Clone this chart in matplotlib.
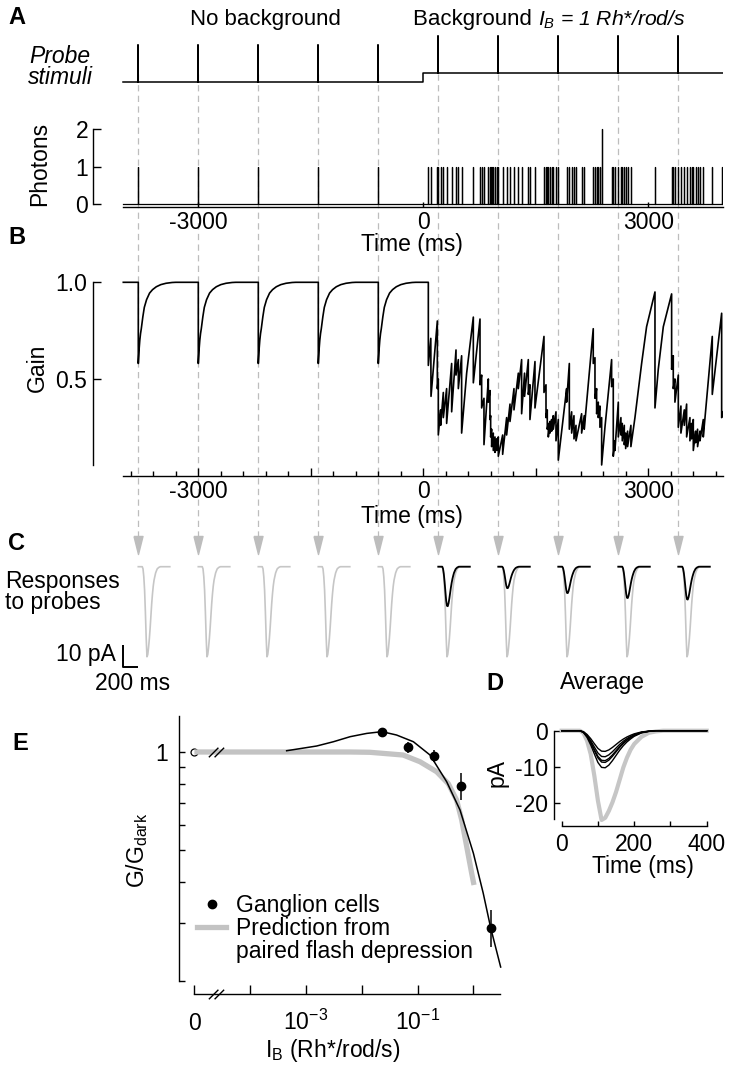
import numpy as np
import matplotlib
matplotlib.use('Agg')
import matplotlib.pyplot as plt
from matplotlib.lines import Line2D
from matplotlib.path import Path
from matplotlib.ticker import FixedLocator, NullLocator

plt.rcParams['font.family'] = ['Liberation Sans', 'DejaVu Sans']
plt.rcParams['font.size'] = 16.5
plt.rcParams['mathtext.fontset'] = 'custom'
plt.rcParams['mathtext.rm'] = 'Liberation Sans'
plt.rcParams['mathtext.it'] = 'Liberation Sans:italic'
plt.rcParams['mathtext.bf'] = 'Liberation Sans:bold'
plt.rcParams['axes.linewidth'] = 1.0
plt.rcParams['axes.unicode_minus'] = False

# ---------------- data ----------------
PROBE_T = [-3800, -3000, -2200, -1400, -600, 200, 1000, 1800, 2600, 3400]   # ms
BG_ON_T = 0
BG_STEP = 0.25            # background step height, relative to a probe flash

BG_PHOTON_T = [67, 103, 187, 231, 267, 311, 378, 436, 467, 511, 667, 756, 778, 809,
               867, 889, 898, 911, 933, 956, 978, 1058, 1111, 1156, 1209, 1267, 1311,
               1400, 1422, 1489, 1609, 1636, 1653, 1667, 1689, 1711, 1733, 1769, 1911,
               1947, 1978, 2009, 2036, 2111, 2146, 2266, 2289, 2311, 2333, 2355, 2378,
               2511, 2533, 2555, 2635, 2653, 2680, 2698, 2724, 2768, 3089, 3311, 3333,
               3355, 3435, 3480, 3511, 3555, 3578, 3600, 3631, 3657, 3689, 3733, 3853,
               3978]
DOUBLE_PHOTON_T = [2378]

# gain recovery after a probe in darkness (ms after probe, gain)
REC_DT = [0, 10, 20, 30, 40, 60, 80, 110, 150, 190, 240, 300, 370, 450, 500]
REC_G = [0.58, 0.65, 0.70, 0.735, 0.76, 0.82, 0.87, 0.91, 0.944, 0.962, 0.977, 0.988,
         0.995, 0.999, 1.0]

# gain trace vertices with background (ms, gain)
GAIN_BG = [
    (0, 1.00), (67, 1.00), (67, 0.57), (100, 0.71), (103, 0.41), (187, 0.80), (187, 0.45),
    (200, 0.50), (200, 0.21), (231, 0.34), (231, 0.26), (267, 0.43), (267, 0.30),
    (311, 0.45), (311, 0.27), (378, 0.58), (378, 0.33), (436, 0.65), (436, 0.52),
    (467, 0.60), (467, 0.45), (511, 0.62), (511, 0.22), (578, 0.53), (667, 0.82),
    (667, 0.48), (756, 0.81), (756, 0.47), (778, 0.52), (778, 0.35), (809, 0.40),
    (809, 0.16), (867, 0.50), (867, 0.38), (889, 0.44), (889, 0.29), (898, 0.31),
    (898, 0.20), (911, 0.24), (911, 0.15), (933, 0.22), (933, 0.13), (956, 0.20),
    (956, 0.12), (978, 0.19), (978, 0.13), (1000, 0.20), (1000, 0.10), (1058, 0.21),
    (1058, 0.11), (1111, 0.30), (1111, 0.21), (1156, 0.37), (1156, 0.28), (1209, 0.45),
    (1209, 0.34), (1267, 0.53), (1267, 0.45), (1311, 0.60), (1311, 0.32), (1350, 0.53),
    (1350, 0.41), (1400, 0.60), (1400, 0.42), (1422, 0.47), (1422, 0.29), (1489, 0.59),
    (1489, 0.35), (1609, 0.72), (1609, 0.43), (1636, 0.47), (1636, 0.30), (1653, 0.34),
    (1653, 0.24), (1667, 0.27), (1667, 0.20), (1689, 0.28), (1689, 0.22), (1711, 0.29),
    (1711, 0.23), (1733, 0.31), (1733, 0.24), (1769, 0.33), (1769, 0.18), (1800, 0.29),
    (1800, 0.08), (1911, 0.45), (1911, 0.38), (1947, 0.58), (1947, 0.24), (1978, 0.33),
    (1978, 0.22), (2009, 0.31), (2009, 0.19), (2036, 0.26), (2036, 0.18), (2111, 0.32),
    (2111, 0.22), (2146, 0.31), (2146, 0.24), (2266, 0.76), (2266, 0.58), (2289, 0.61),
    (2289, 0.40), (2311, 0.45), (2311, 0.32), (2333, 0.38), (2333, 0.30), (2355, 0.36),
    (2355, 0.25), (2378, 0.30), (2378, 0.055), (2422, 0.25), (2511, 0.60), (2511, 0.46),
    (2533, 0.50), (2533, 0.10), (2555, 0.18), (2555, 0.13), (2600, 0.38), (2600, 0.20),
    (2635, 0.30), (2635, 0.21), (2653, 0.27), (2653, 0.18), (2680, 0.26), (2680, 0.16),
    (2698, 0.22), (2698, 0.14), (2724, 0.23), (2724, 0.15), (2768, 0.26), (2768, 0.15),
    (2822, 0.30), (2911, 0.58), (2977, 0.77), (3089, 0.95), (3089, 0.35), (3133, 0.55),
    (3200, 0.77), (3311, 0.94), (3311, 0.55), (3333, 0.62), (3333, 0.45), (3355, 0.50),
    (3355, 0.38), (3400, 0.52), (3400, 0.25), (3435, 0.36), (3435, 0.22), (3480, 0.34),
    (3480, 0.26), (3511, 0.37), (3511, 0.20), (3555, 0.30), (3555, 0.18), (3578, 0.27),
    (3578, 0.19), (3600, 0.29), (3600, 0.13), (3631, 0.23), (3631, 0.17), (3657, 0.24),
    (3657, 0.15), (3689, 0.23), (3689, 0.18), (3733, 0.29), (3733, 0.20), (3853, 0.72),
    (3853, 0.42), (3978, 0.84), (3978, 0.30), (4000, 0.33),
]

# probe responses (ms after flash)
RESP_T = [0, 50, 60, 70, 80, 90, 100, 110, 120, 130, 140, 150, 160, 170, 180, 190,
          200, 220, 240, 260, 280, 400]
DARK_PA = [0, 0, -0.6, -2.8, -6.5, -12.5, -19.5, -24.8, -24.2, -22.3, -19.9, -17.0,
           -13.6, -10.2, -7.5, -5.3, -3.7, -1.7, -0.6, -0.2, 0, 0]
BG_SHAPE = [0, 0, -0.05, -0.18, -0.38, -0.62, -0.85, -0.98, -0.99, -0.92, -0.80, -0.66,
            -0.52, -0.40, -0.30, -0.22, -0.15, -0.06, -0.02, 0, 0, 0]
D_BG_PEAK = [10.4, 5.8, 7.3, 8.4, 8.9]          # pA, average panel
C_DARK_PEAK = 41.5                              # pA, single responses
C_BG_PEAK = [18.4, 10.0, 12.3, 14.6, 15.3]

# panel E
EXP_I = [0.023, 0.068, 0.20, 0.59, 2.04]
EXP_G = [1.154, 1.034, 0.972, 0.787, 0.290]
EXP_LO = [1.140, 0.993, 0.934, 0.713, 0.254]
EXP_HI = [1.170, 1.075, 1.014, 0.864, 0.329]
FIT_I = [4.5e-4, 1.55e-3, 3.1e-3, 6.2e-3, 1.23e-2, 2.3e-2, 4.2e-2, 8.4e-2, 0.167,
         0.332, 0.575, 1.0, 1.5, 2.04, 3.08]
FIT_G = [1.009, 1.043, 1.075, 1.114, 1.140, 1.154, 1.127, 1.075, 0.979, 0.811, 0.665,
         0.490, 0.370, 0.290, 0.220]
PRED_I = [0, 6.2e-3, 1.39e-2, 5.5e-2, 0.11, 0.22, 0.355, 0.50, 0.617, 0.76, 0.933, 1.026]
PRED_G = [1.0, 1.0, 0.998, 0.979, 0.934, 0.87, 0.80, 0.713, 0.62, 0.513, 0.425, 0.392]
ZERO_AT = 1e-5            # where I_B = 0 sits on the broken log axis

# ---------------- layout helpers (pixels, origin top-left) ----------------
W, H = 750, 1070
fig = plt.figure(figsize=(W / 100, H / 100), dpi=100)

GRAY = '#bdbdbd'
T0_PX, MS_PX = 423.3, 0.075       # time axis of panels A-C
LEFT_PX, RIGHT_PX = 93, 723.3


def add_ax(x0, y0, x1, y1, z=1):
    ax = fig.add_axes([x0 / W, 1 - y1 / H, (x1 - x0) / W, (y1 - y0) / H])
    ax.patch.set_alpha(0)
    ax.set_zorder(z)
    return ax


def ylims(top, bot, p_ref, v_ref, ppu):
    return (v_ref + (p_ref - bot) / ppu, v_ref + (p_ref - top) / ppu)


def xlims(left, right, p_ref, v_ref, ppu):
    return (v_ref + (left - p_ref) / ppu, v_ref + (right - p_ref) / ppu)


def ftext(x, y, s, **kw):
    return fig.text(x / W, 1 - y / H, s, **kw)


def clean(ax):
    ax.spines['top'].set_visible(False)
    ax.spines['right'].set_visible(False)


TL = xlims(LEFT_PX, RIGHT_PX, T0_PX, 0, MS_PX)

# overlay for the dashed guide lines and arrows (y in pixels)
ov = add_ax(LEFT_PX, 0, RIGHT_PX, H, z=0)
ov.set_xlim(*TL)
ov.set_ylim(H, 0)
ov.axis('off')
ov.vlines(PROBE_T, 74, 540, colors=GRAY, linestyles=(0, (5, 3.5)), lw=0.9)
head = Path([(-0.5, 1), (0.5, 1), (0, -1), (-0.5, 1)])
ov.plot(PROBE_T, [545] * len(PROBE_T), ls='none', marker=head, ms=13,
        color=GRAY, mec=GRAY)

# ---------------- A: probe stimuli ----------------
pr = add_ax(LEFT_PX, 28, RIGHT_PX, 90)
pr.set_xlim(*TL)
pr.set_ylim(*ylims(28, 90, 81.7, 0, 36.5))
pr.axis('off')
px, py = [-4000], [0]
for t in PROBE_T:
    if px[-1] < BG_ON_T <= t:
        px += [BG_ON_T, BG_ON_T]
        py += [0, BG_STEP]
    b = BG_STEP if t >= BG_ON_T else 0
    px += [t, t, t]
    py += [b, b + 1, b]
px.append(4000)
py.append(BG_STEP)
pr.plot(px, py, 'k', lw=1.1)

# photons
ph = add_ax(LEFT_PX, 120, RIGHT_PX, 207)
ph.set_xlim(*TL)
ph.set_ylim(*ylims(120, 207, 204, 0, 37.5))
clean(ph)
events = sorted([(t, 1) for t in PROBE_T] +
                [(t, 2 if t in DOUBLE_PHOTON_T else 1) for t in BG_PHOTON_T])
xs, ys = [-4000], [0]
for t, n in events:
    xs += [t, t, t]
    ys += [0, n, 0]
xs.append(4000)
ys.append(0)
ph.plot(xs, ys, 'k', lw=0.9)
ph.spines['left'].set_bounds(0, 2)
ph.spines['bottom'].set_bounds(-4000, 4000)
ph.set_yticks([0, 1, 2])
ph.set_xticks([-3000, 0, 3000])
ph.set_xticklabels(['-3000', '0', '3000'])
ph.tick_params(axis='y', direction='in', length=6, width=1, pad=3.4)
ph.tick_params(axis='x', direction='in', length=3.6, width=1, pad=3)

# ---------------- B: gain ----------------
gn = add_ax(LEFT_PX, 270, RIGHT_PX, 475.6)
gn.set_xlim(*TL)
gn.set_ylim(*ylims(270, 475.6, 475.6, 0, 193.3))
clean(gn)
gx, gy = [-4000], [1.0]
for t in PROBE_T:
    if t >= BG_ON_T:
        break
    gx.append(t)
    gy.append(1.0)
    gx += [t + d for d in REC_DT]
    gy += REC_G
bg = np.array(GAIN_BG)
gx += list(bg[:, 0])
gy += list(bg[:, 1])
gn.plot(gx, gy, 'k', lw=1.2)
gn.spines['left'].set_bounds(0.055, 1.0)
gn.spines['bottom'].set_bounds(-4000, 4000)
gn.set_yticks([0.5, 1.0])
gn.set_yticklabels(['0.5', '1.0'])
gn.set_xticks([-3000, -1500, 0, 1500, 3000])
gn.set_xticklabels(['-3000', '', '0', '', '3000'])
gn.xaxis.set_minor_locator(FixedLocator(np.arange(-3900, 4000, 300)))
gn.tick_params(axis='y', direction='in', length=6, width=1, pad=4.5)
gn.tick_params(axis='x', which='major', direction='in', length=6, width=1, pad=3)
gn.tick_params(axis='x', which='minor', direction='in', length=3.5, width=1)

# ---------------- C: responses to probes ----------------
C_PPA = 2.17           # pixels per pA
C_MS = 1.05            # main-axis ms per response ms
cc = add_ax(LEFT_PX, 553, RIGHT_PX, 692)
cc.set_xlim(*TL)
cc.set_ylim(*ylims(553, 692, 566.7, 0, C_PPA))
cc.axis('off')
rt = np.array(RESP_T)
dark_shape = np.array(DARK_PA) / min(DARK_PA)
bg_shape = np.array(BG_SHAPE)
k = 0
for t in PROBE_T:
    cc.plot(t + rt * C_MS, -dark_shape * C_DARK_PEAK, color='#c6c6c6', lw=1.2)
    if t >= BG_ON_T:
        cc.plot(t + rt * C_MS, bg_shape * C_BG_PEAK[k], color='k', lw=1.3)
        k += 1
sbx, sby = -4008, -46
cc.plot([sbx, sbx, sbx + 200 * C_MS], [sby + 10, sby, sby], 'k', lw=1.4,
        solid_capstyle='butt')

# ---------------- D: average ----------------
dd = add_ax(554, 722, 712, 825.7)
dd.set_xlim(*xlims(554, 712, 561.7, 0, 0.3625))
dd.set_ylim(*ylims(722, 825.7, 730.7, 0, 3.6))
clean(dd)
dd.plot(RESP_T, DARK_PA, color='#c6c6c6', lw=3.0)
for a in D_BG_PEAK:
    dd.plot(RESP_T, bg_shape * a, color='k', lw=1.0)
dd.spines['left'].set_bounds(-24.4, 0)
dd.spines['bottom'].set_bounds(0, 400)
dd.set_yticks([0, -10, -20])
dd.set_yticklabels(['0', '-10', '-20'])
dd.set_xticks([0, 100, 200, 300, 400])
dd.set_xticklabels(['0', '', '200', '', '400'])
dd.tick_params(axis='y', direction='in', length=4, width=1, pad=4.3)
dd.tick_params(axis='x', direction='in', length=3.5, width=1, pad=5)

# ---------------- E: gain vs background ----------------
DEC_PX = 55.8
GDEC_PX = 327.0
ee = add_ax(179.3, 716, 512, 994)
ee.set_xscale('log')
ee.set_yscale('log')
lx = xlims(179.3, 512, 306, -3, DEC_PX)
ly = ylims(716, 994, 752, 0, GDEC_PX)
ee.set_xlim(10 ** lx[0], 10 ** lx[1])
ee.set_ylim(10 ** ly[0], 10 ** ly[1])
clean(ee)
pred_x = [ZERO_AT if v == 0 else v for v in PRED_I]
ee.plot([ZERO_AT], [1.0], 'o', mfc='white', mec='k', ms=5, mew=0.9, zorder=1)
ee.plot(pred_x, PRED_G, color='#c3c3c3', lw=3.8, solid_capstyle='butt', zorder=2)
ee.plot(FIT_I, FIT_G, 'k', lw=1.1, zorder=3)
g = np.array(EXP_G)
ee.errorbar(EXP_I, EXP_G, yerr=[g - np.array(EXP_LO), np.array(EXP_HI) - g],
            fmt='o', color='k', ms=6, elinewidth=1.1, capsize=0, zorder=4)
brk = Path([(-1.6, -1), (0.4, 1), (-0.4, -1), (1.6, 1)],
           [Path.MOVETO, Path.LINETO, Path.MOVETO, Path.LINETO])
BREAK_I = 2.4e-5
ee.plot([BREAK_I], [1.0], ls='none', marker=brk, ms=11, mec='k', mew=1.0, zorder=5)
ee.plot([BREAK_I], [0], ls='none', marker=brk, ms=11, mec='k', mew=1.0,
        transform=ee.get_xaxis_transform(), clip_on=False, zorder=5)
ee.spines['left'].set_bounds(0.2, 10 ** ly[1])
ee.spines['bottom'].set_bounds(ZERO_AT, 3.0)
ee.yaxis.set_major_locator(FixedLocator([1.0]))
ee.yaxis.set_minor_locator(FixedLocator([0.2, 0.3, 0.4, 0.5, 0.6, 0.7, 0.8, 0.9]))
ee.set_yticklabels(['1'])
ee.yaxis.set_minor_formatter(plt.NullFormatter())
ee.xaxis.set_major_locator(FixedLocator([1e-5, 1e-4, 1e-3, 1e-2, 1e-1, 1e0]))
ee.xaxis.set_minor_locator(NullLocator())
ee.set_xticklabels([])
ee.tick_params(axis='y', which='both', direction='in', length=4, width=1, pad=8)
ee.tick_params(axis='x', direction='in', length=6.5, width=1)
xtr = ee.get_xaxis_transform()
for v, s in [(ZERO_AT, '0'), (1e-3, r'$10^{-3}$'), (1e-1, r'$10^{-1}$')]:
    ee.text(v, -0.128, s, transform=xtr, ha='center', va='baseline')
handles = [Line2D([], [], marker='o', color='k', ls='none', ms=6),
           Line2D([], [], color='#c3c3c3', lw=3.8),
           Line2D([], [], color='none')]
ee.legend(handles, ['Ganglion cells', 'Prediction from', 'paired flash depression'],
          loc='upper left', bbox_to_anchor=(196.7 / W, 1 - 894 / H),
          bbox_transform=fig.transFigure, frameon=False, handlelength=1.3,
          handletextpad=0.4, borderpad=0, borderaxespad=0, labelspacing=0.0)

# ---------------- text ----------------
bold = dict(fontsize=17, fontweight='bold', va='center', ha='left')
ftext(8, 18, 'A', **bold)
ftext(8, 238, 'B', **bold)
ftext(8, 543, 'C', **bold)
ftext(486, 683, 'D', **bold)
ftext(12, 744, 'E', **bold)

ftext(265.6, 25.5, 'No background', ha='center', va='baseline', fontsize=16)
t1 = ftext(413, 25.5, 'Background ', ha='left', va='baseline', fontsize=16)
rend = fig.canvas.get_renderer()
x_next = t1.get_window_extent(renderer=rend).x1
fig.text(x_next / fig.bbox.width, 1 - 25.5 / H, r'$I_B$ = 1 Rh*/rod/s',
         ha='left', va='baseline', fontstyle='italic', fontsize=15.2)
ftext(60, 67, 'Probe\nstimuli', ha='center', va='center', fontstyle='italic',
      multialignment='center', linespacing=0.93)
ftext(40, 164, 'Photons', rotation=90, ha='center', va='center')
ftext(412, 244, 'Time (ms)', ha='center', va='center')
ftext(37, 368, 'Gain', rotation=90, ha='center', va='center')
ftext(412, 517, 'Time (ms)', ha='center', va='center')
ftext(5, 592, 'Responses\nto probes', ha='left', va='center', linespacing=0.93)
ftext(116, 655, '10 pA', ha='right', va='center')
ftext(133, 683, '200 ms', ha='center', va='center')
ftext(602, 683, 'Average', ha='center', va='center')
ftext(497, 773, 'pA', rotation=90, ha='center', va='center')
ftext(643, 866.7, 'Time (ms)', ha='center', va='center')
ftext(137, 850, r'G/G$_{\rm dark}$', rotation=90, ha='center', va='center')
ftext(333, 1050, r'I$_{\rm B}$ (Rh*/rod/s)', ha='center', va='center')

fig.savefig('out.png', dpi=100)
